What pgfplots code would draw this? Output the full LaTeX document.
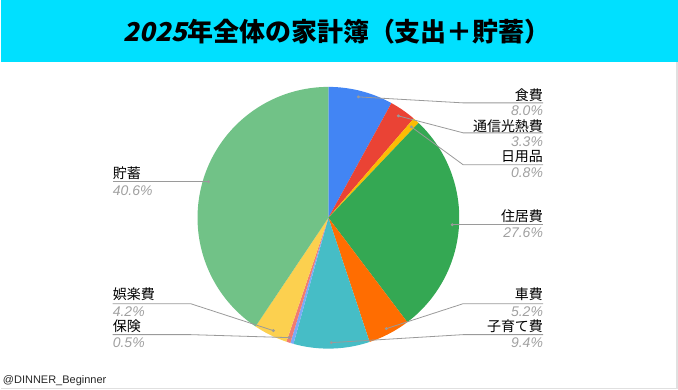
\documentclass[border=0pt]{standalone}
\usepackage{pgfplots}
\pgfplotsset{compat=1.18}
\usepackage{fontspec}
\setmainfont{Liberation Sans}
\newfontfamily\jp{Noto Sans CJK JP}
\newfontfamily\jpsl{Noto Sans CJK JP}[FakeSlant=0.22]
\definecolor{titlecyan}{HTML}{00E0FF}
\definecolor{cFood}{HTML}{4285F4}
\definecolor{cUtil}{HTML}{EA4335}
\definecolor{cDaily}{HTML}{FBBC04}
\definecolor{cHouse}{HTML}{34A853}
\definecolor{cCar}{HTML}{FF6D01}
\definecolor{cKids}{HTML}{46BDC6}
\definecolor{cOther}{HTML}{7BAAF7}
\definecolor{cIns}{HTML}{F07B72}
\definecolor{cFun}{HTML}{FCD04F}
\definecolor{cSave}{HTML}{71C287}
\definecolor{leader}{HTML}{9A9A9A}
\definecolor{pct}{HTML}{A0A0A0}
\newcommand\lab[1]{{\jp\fontsize{14}{16}\selectfont #1}}
\newcommand\pc[1]{{\color{pct}\itshape\fontsize{14}{16}\selectfont #1}}
\begin{document}
\begin{tikzpicture}
\begin{axis}[scale only axis, width=678pt, height=390pt,
  xmin=0, xmax=678, ymin=0, ymax=390, y dir=reverse,
  hide axis, clip=false]
% title band
\fill[titlecyan] (axis cs:0,0) rectangle (axis cs:678,62);
\node at (axis cs:337,32) {\fontsize{26}{30}\selectfont\bfseries\jpsl 2025\jp 年全体の家計簿（支出＋貯蓄）};
\draw[black!12, line width=1.5pt] (axis cs:677,62) -- (axis cs:677,389) -- (axis cs:0,389);
% pie slices: domain = cumulative percentage range of each category
\addplot[fill=cFood, draw=none, mark=none, domain=0:8.0, samples=40] ({328+131*sin(3.6*x)},{218-131*cos(3.6*x)}) -- (axis cs:328,218) -- cycle;
\addplot[fill=cUtil, draw=none, mark=none, domain=8.0:11.3, samples=20] ({328+131*sin(3.6*x)},{218-131*cos(3.6*x)}) -- (axis cs:328,218) -- cycle;
\addplot[fill=cDaily, draw=none, mark=none, domain=11.3:12.1, samples=8] ({328+131*sin(3.6*x)},{218-131*cos(3.6*x)}) -- (axis cs:328,218) -- cycle;
\addplot[fill=cHouse, draw=none, mark=none, domain=12.1:39.7, samples=100] ({328+131*sin(3.6*x)},{218-131*cos(3.6*x)}) -- (axis cs:328,218) -- cycle;
\addplot[fill=cCar, draw=none, mark=none, domain=39.7:44.9, samples=25] ({328+131*sin(3.6*x)},{218-131*cos(3.6*x)}) -- (axis cs:328,218) -- cycle;
\addplot[fill=cKids, draw=none, mark=none, domain=44.9:54.3, samples=40] ({328+131*sin(3.6*x)},{218-131*cos(3.6*x)}) -- (axis cs:328,218) -- cycle;
\addplot[fill=cOther, draw=none, mark=none, domain=54.3:54.7, samples=5] ({328+131*sin(3.6*x)},{218-131*cos(3.6*x)}) -- (axis cs:328,218) -- cycle;
\addplot[fill=cIns, draw=none, mark=none, domain=54.7:55.2, samples=5] ({328+131*sin(3.6*x)},{218-131*cos(3.6*x)}) -- (axis cs:328,218) -- cycle;
\addplot[fill=cFun, draw=none, mark=none, domain=55.2:59.4, samples=20] ({328+131*sin(3.6*x)},{218-131*cos(3.6*x)}) -- (axis cs:328,218) -- cycle;
\addplot[fill=cSave, draw=none, mark=none, domain=59.4:100, samples=140] ({328+131*sin(3.6*x)},{218-131*cos(3.6*x)}) -- (axis cs:328,218) -- cycle;
% leader lines
\begin{scope}[leader, line width=0.8pt]
\draw (axis cs:358,97) -- (axis cs:463,103) -- (axis cs:543,103);
\draw (axis cs:398,116) -- (axis cs:463,133) -- (axis cs:543,133);
\draw (axis cs:411,127) -- (axis cs:463,165) -- (axis cs:543,165);
\draw (axis cs:452,225) -- (axis cs:543,225);
\draw (axis cs:386,329) -- (axis cs:463,304) -- (axis cs:543,304);
\draw (axis cs:331,343) -- (axis cs:463,335) -- (axis cs:543,335);
\draw (axis cs:208,182) -- (axis cs:112,182);
\draw (axis cs:273,331) -- (axis cs:190,304) -- (axis cs:112,304);
\draw (axis cs:289,338) -- (axis cs:190,335) -- (axis cs:112,335);
\fill[leader] (axis cs:358,97) circle[radius=1.6pt];
\fill[leader] (axis cs:398,116) circle[radius=1.6pt];
\fill[leader] (axis cs:411,127) circle[radius=1.6pt];
\fill[leader] (axis cs:452,225) circle[radius=1.6pt];
\fill[leader] (axis cs:386,329) circle[radius=1.6pt];
\fill[leader] (axis cs:331,343) circle[radius=1.6pt];
\fill[leader] (axis cs:208,182) circle[radius=1.6pt];
\fill[leader] (axis cs:273,331) circle[radius=1.6pt];
\fill[leader] (axis cs:289,338) circle[radius=1.6pt];
\end{scope}
% right labels
\node[anchor=east, inner sep=0pt] at (axis cs:543,95) {\lab{食費}};
\node[anchor=east, inner sep=0pt] at (axis cs:543,111) {\pc{8.0\%}};
\node[anchor=east, inner sep=0pt] at (axis cs:543,126) {\lab{通信光熱費}};
\node[anchor=east, inner sep=0pt] at (axis cs:543,142) {\pc{3.3\%}};
\node[anchor=east, inner sep=0pt] at (axis cs:543,157) {\lab{日用品}};
\node[anchor=east, inner sep=0pt] at (axis cs:543,173) {\pc{0.8\%}};
\node[anchor=east, inner sep=0pt] at (axis cs:543,216) {\lab{住居費}};
\node[anchor=east, inner sep=0pt] at (axis cs:543,233) {\pc{27.6\%}};
\node[anchor=east, inner sep=0pt] at (axis cs:543,295) {\lab{車費}};
\node[anchor=east, inner sep=0pt] at (axis cs:543,312) {\pc{5.2\%}};
\node[anchor=east, inner sep=0pt] at (axis cs:543,327) {\lab{子育て費}};
\node[anchor=east, inner sep=0pt] at (axis cs:543,343) {\pc{9.4\%}};
% left labels
\node[anchor=west, inner sep=0pt] at (axis cs:112,173) {\lab{貯蓄}};
\node[anchor=west, inner sep=0pt] at (axis cs:112,191) {\pc{40.6\%}};
\node[anchor=west, inner sep=0pt] at (axis cs:112,295) {\lab{娯楽費}};
\node[anchor=west, inner sep=0pt] at (axis cs:112,312) {\pc{4.2\%}};
\node[anchor=west, inner sep=0pt] at (axis cs:112,327) {\lab{保険}};
\node[anchor=west, inner sep=0pt] at (axis cs:112,343) {\pc{0.5\%}};
% footer
\node[anchor=west, inner sep=0pt] at (axis cs:2,381) {\fontsize{11}{13}\selectfont\color{black!85}@DINNER\_Beginner};
\end{axis}
\end{tikzpicture}
\end{document}
